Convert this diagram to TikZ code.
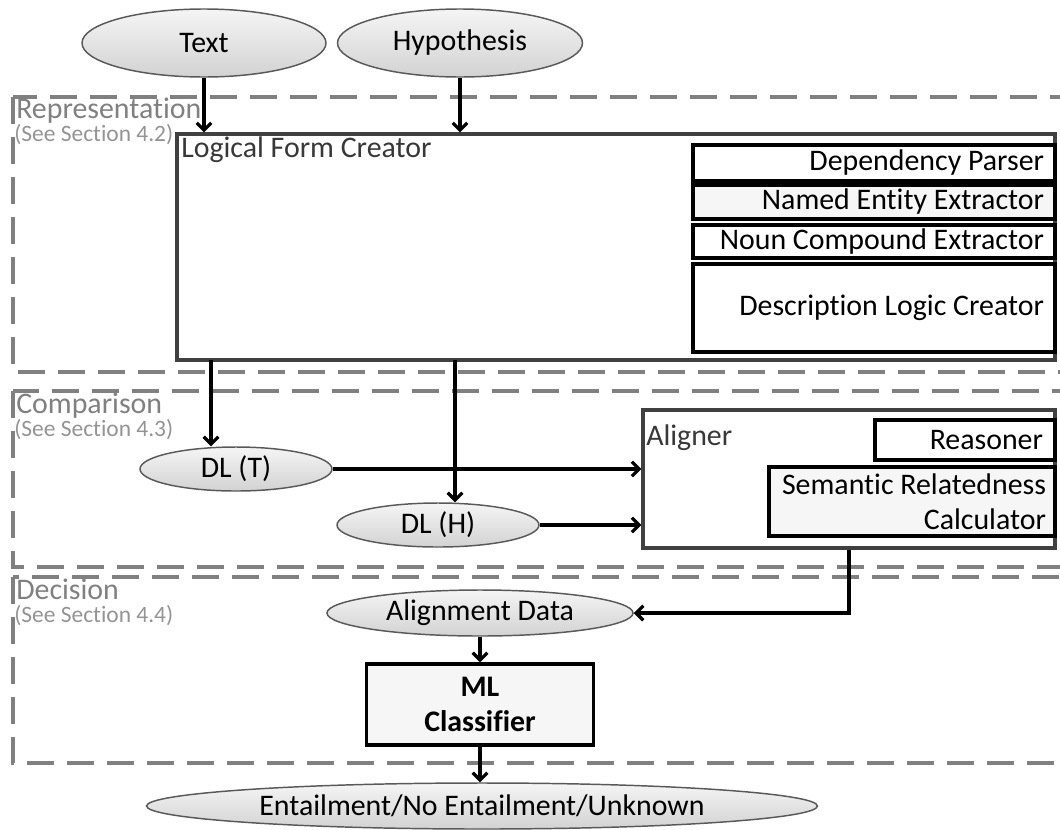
\documentclass[tikz,border=0pt]{standalone}
\usepackage{fontspec}
\setmainfont{Carlito}[Ligatures=NoCommon]
\usetikzlibrary{arrows.meta,shapes.geometric}

% lengths are given in pixel units of a 1060 x 829 canvas
\newcommand\pxw[1]{#1*0.75pt}

\begin{document}
\begin{tikzpicture}[x=0.75pt,y=-0.75pt,
  txt/.style={font=\fontsize{22.4}{26.5}\selectfont},
  oval/.style={ellipse, draw=black!65, line width=1.1pt, top color=gray!8, bottom color=gray!35,
               inner sep=0pt, txt},
  unitbox/.style={rectangle, draw=black, line width=2.6pt, inner sep=0pt, txt, align=flush right},
  frame/.style={rectangle, draw=black!75, line width=2.3pt, fill=white, inner sep=0pt},
  frametitle/.style={anchor=base west, inner sep=0pt, text=black!78, txt},
  region/.style={draw=black!50, line width=2.6pt, dash pattern=on 20pt off 10pt},
  regiontitle/.style={anchor=base west, inner sep=0pt, text=black!50, txt},
  regionref/.style={anchor=base west, inner sep=0pt, text=black!42,
                    font=\fontsize{17.6}{20}\selectfont},
  flow/.style={draw=black, line width=2.4pt, -{Straight Barb[length=5.5pt,width=11pt]}}
]
\clip (0,0) rectangle (1060,829);

% stage regions (open to the right)
\draw[region] (13,97)  rectangle (1090,372);
\draw[region] (13,391) rectangle (1090,567);
\draw[region] (13,577) rectangle (1090,763);

\node[regiontitle] (repT) at (16,118) {Representation};
\node[regionref]   (repS) at (14,141) {(See Section 4.2)};
\node[regiontitle] (cmpT) at (16,413) {Comparison};
\node[regionref]   (cmpS) at (14,436) {(See Section 4.3)};
\node[regiontitle] (decT) at (16,599) {Decision};
\node[regionref]   (decS) at (14,622) {(See Section 4.4)};

% inputs
\node[oval, minimum width=\pxw{244}, minimum height=\pxw{68}] (text) at (204,43) {Text};
\node[oval, minimum width=\pxw{245}, minimum height=\pxw{68}] (hyp)  at (460,43) {Hypothesis};

% representation stage
\node[frame, minimum width=\pxw{878}, minimum height=\pxw{226}] (lfc) at (616,247) {};
\node[frametitle] (lfcT) at (181,157) {Logical Form Creator};
\node[unitbox, minimum width=\pxw{362}, minimum height=\pxw{36}, text width=\pxw{340}]
  (dp)  at (874,163) {Dependency Parser};
\node[unitbox, fill=gray!7, minimum width=\pxw{362}, minimum height=\pxw{34}, text width=\pxw{340}]
  (nee) at (874,202) {Named Entity Extractor};
\node[unitbox, minimum width=\pxw{362}, minimum height=\pxw{33}, text width=\pxw{340}]
  (nce) at (874,241.5) {Noun Compound Extractor};
\node[unitbox, minimum width=\pxw{362}, minimum height=\pxw{88}, text width=\pxw{340}]
  (dlc) at (874,308) {Description Logic Creator};

% comparison stage
\node[oval, minimum width=\pxw{192}, minimum height=\pxw{44}] (dlt) at (236,469) {DL (T)};
\node[oval, minimum width=\pxw{202}, minimum height=\pxw{44}] (dlh) at (438,525) {DL (H)};

\node[frame, minimum width=\pxw{412}, minimum height=\pxw{138}] (aligner) at (849,479) {};
\node[frametitle] (alT) at (646,445) {Aligner};
\node[unitbox, minimum width=\pxw{180}, minimum height=\pxw{40}, text width=\pxw{156}]
  (reas) at (965,440) {Reasoner};
\node[unitbox, fill=gray!7, minimum width=\pxw{286}, minimum height=\pxw{69}, text width=\pxw{268},
      font=\fontsize{22.4}{26.5}\selectfont]
  (src) at (912,501.5) {Semantic Relatedness\\Calculator};

% decision stage
\node[oval, minimum width=\pxw{306}, minimum height=\pxw{46}] (adata) at (480,613) {Alignment Data};
\node[rectangle, draw=black, line width=2.6pt, fill=gray!7, inner sep=0pt,
      minimum width=\pxw{227}, minimum height=\pxw{81}, align=center,
      font=\fontsize{22.4}{26.5}\selectfont\bfseries]
  (ml) at (480,704.5) {ML\\Classifier};

% output
\node[oval, minimum width=\pxw{671}, minimum height=\pxw{46}] (ent) at (482,806)
  {Entailment/No Entailment/Unknown};

% connectors
\coordinate (tapT) at (211,360);
\coordinate (tapH) at (455,360);
\draw[flow] (text.south) -- (text.south |- lfc.north);
\draw[flow] (hyp.south) -- (hyp.south |- lfc.north);
\draw[flow] (tapT) -- (tapT |- dlt.north);
\draw[flow] (tapH) -- (tapH |- dlh.north);
\draw[flow] (dlt.east) -- (dlt.east -| aligner.west);
\draw[flow] (dlh.east) -- (dlh.east -| aligner.west);
\draw[flow] (aligner.south) |- (adata.east);
\draw[flow] (adata.south) -- (ml.north);
\draw[flow] (ml.south) -- (ml.south |- ent.north);
\end{tikzpicture}
\end{document}
